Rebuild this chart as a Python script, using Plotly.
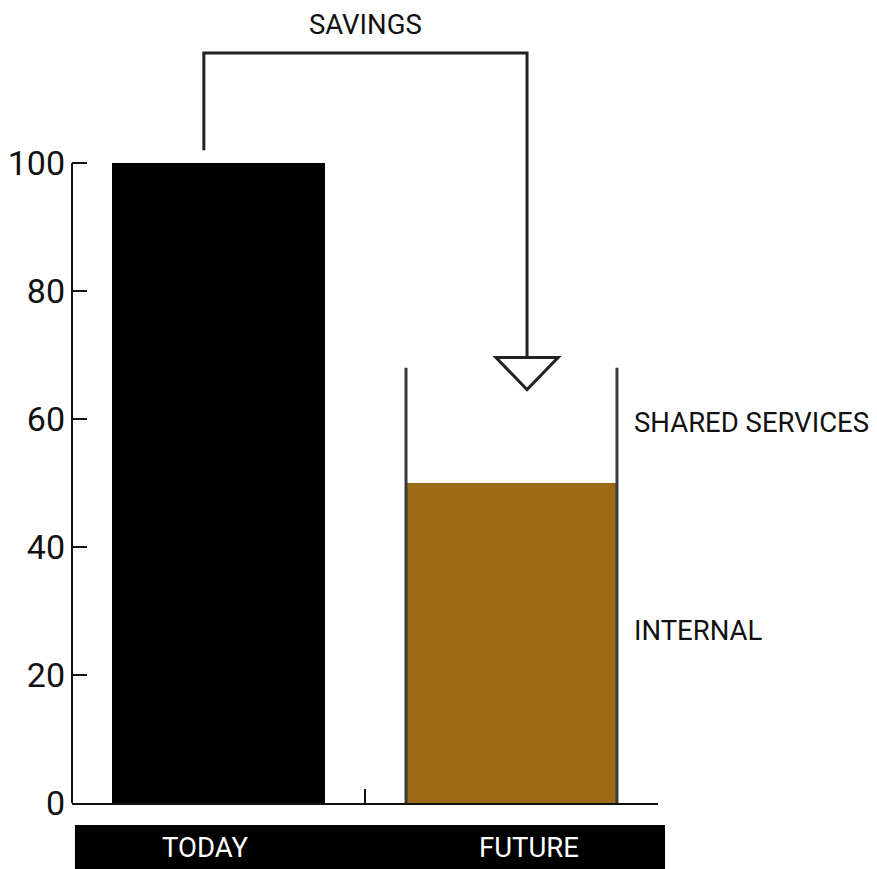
import plotly.graph_objects as go

categories = ["TODAY", "FUTURE"]
today_total = [100]
future_internal = [50]
future_shared = [18]
y_ticks = [0, 20, 40, 60, 80, 100]
segment_labels = ["SHARED SERVICES", "INTERNAL"]
savings_label = "SAVINGS"

FONT = "Roboto, Liberation Sans Narrow, sans-serif"
BROWN = "#9C6A14"
INK = "#111111"
TXT = 27.5

future_total = future_internal[0] + future_shared[0]
bar_w_today = 0.73
bar_w_future = 0.72

fig = go.Figure()
fig.add_trace(go.Bar(x=[categories[0]], y=today_total, width=bar_w_today,
                     marker=dict(color="#000000", line=dict(width=0)),
                     name="Today", showlegend=False, hoverinfo="y"))
fig.add_trace(go.Bar(x=[categories[1]], y=future_internal, width=bar_w_future,
                     marker=dict(color=BROWN, line=dict(width=0)),
                     name="Internal", showlegend=False, hoverinfo="y"))
fig.add_trace(go.Bar(x=[categories[1]], y=future_shared, width=bar_w_future,
                     marker=dict(color="rgba(255,255,255,0)", line=dict(width=0)),
                     name="Shared services", showlegend=False, hoverinfo="y"))

shapes = []
# y axis line from 0 to 100 only
shapes.append(dict(type="line", xref="paper", yref="y", x0=0, x1=0, y0=0, y1=max(y_ticks),
                   line=dict(color=INK, width=2)))
# container sides for the future stack
fi = 1
for side in (-1, 1):
    xx = fi + side * bar_w_future / 2
    shapes.append(dict(type="line", xref="x", yref="y", x0=xx, x1=xx, y0=0, y1=future_total,
                       line=dict(color="#3a3a3a", width=3)))
# savings bracket
lx = 0 - 0.05
rx = 1 + 0.053
top_y = today_total[0] + 17.2
shapes.append(dict(type="path", xref="x", yref="y",
                   path=f"M {lx},{today_total[0] + 2} L {lx},{top_y} L {rx},{top_y} L {rx},{future_total + 1.6}",
                   line=dict(color="#222222", width=3)))
# triangle arrow head
tw = 0.106
shapes.append(dict(type="path", xref="x", yref="y",
                   path=f"M {rx - tw},{future_total + 1.6} L {rx + tw},{future_total + 1.6} L {rx},{future_total - 3.4} Z",
                   line=dict(color="#222222", width=3), fillcolor="white"))
# bottom category band
shapes.append(dict(type="rect", xref="paper", yref="paper", x0=0.005, x1=1.012, y0=-0.0275, y1=-0.1,
                   line=dict(width=0), fillcolor="#000000"))

annotations = [
    dict(x=categories[0], y=-0.056, xref="x", yref="paper", text=categories[0], showarrow=False,
         xshift=-14, font=dict(family=FONT, size=TXT, color="white"), yanchor="middle"),
    dict(x=categories[1], y=-0.056, xref="x", yref="paper", text=categories[1], showarrow=False,
         xshift=17, font=dict(family=FONT, size=TXT, color="white"), yanchor="middle"),
    dict(x=(lx + rx) / 2, y=top_y + 4.4, xref="x", yref="y", text=savings_label, showarrow=False,
         font=dict(family=FONT, size=TXT, color=INK), yanchor="middle"),
    dict(x=1.41, y=future_internal[0] + future_shared[0] / 2 + 0.5, xref="x", yref="y",
         text=segment_labels[0], showarrow=False, xanchor="left", yanchor="middle",
         font=dict(family=FONT, size=TXT, color=INK)),
    dict(x=1.41, y=future_internal[0] / 2 + 2, xref="x", yref="y",
         text=segment_labels[1], showarrow=False, xanchor="left", yanchor="middle",
         font=dict(family=FONT, size=TXT, color=INK)),
]

fig.update_layout(
    width=877, height=869,
    margin=dict(l=72, r=219, t=3, b=66),
    paper_bgcolor="white", plot_bgcolor="white",
    barmode="stack",
    shapes=shapes, annotations=annotations,
    showlegend=False,
    font=dict(family=FONT, color=INK),
)
fig.update_xaxes(type="category", categoryorder="array", categoryarray=categories,
                 range=[-0.5, 1.5], showline=True, linecolor=INK, linewidth=2,
                 ticks="inside", tickson="boundaries", ticklen=14, tickwidth=2, tickcolor=INK,
                 showticklabels=False, showgrid=False, zeroline=False, fixedrange=True)
fig.update_yaxes(range=[0, 125], tickvals=y_ticks, ticks="inside", ticklen=15, tickwidth=2,
                 tickcolor=INK, showline=False, showgrid=False, zeroline=False,
                 ticklabelstandoff=6,
                 tickfont=dict(family=FONT, size=34, color=INK), fixedrange=True)

fig.write_html("out.html", config={"displayModeBar": False},
               post_script="document.body.style.margin='0';document.body.style.overflow='hidden';")
